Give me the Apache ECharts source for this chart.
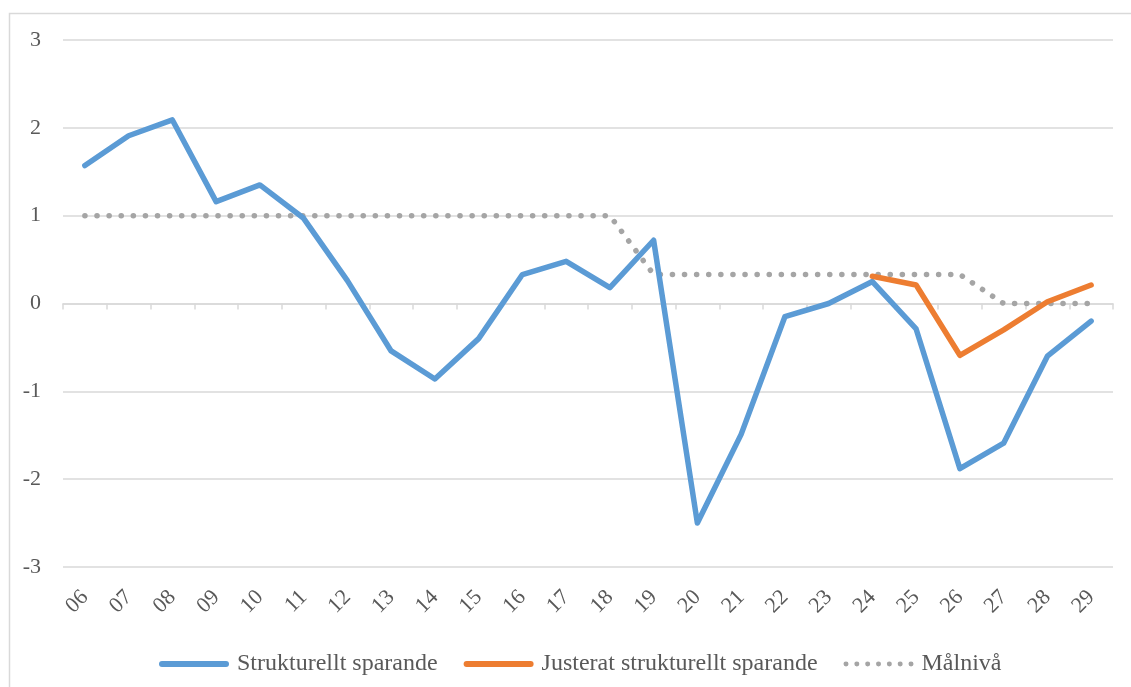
<!DOCTYPE html>
<html>
<head>
<meta charset="utf-8">
<script src="https://cdn.jsdelivr.net/npm/echarts@6/dist/echarts.min.js"></script>
<style>
  html, body { margin: 0; padding: 0; background: #fff; }
  #chart { width: 1131px; height: 687px; }
</style>
</head>
<body>
<div id="chart"></div>
<script>
// år (2006-2029)
var years = ['06', '07', '08', '09', '10', '11', '12', '13', '14', '15', '16', '17',
             '18', '19', '20', '21', '22', '23', '24', '25', '26', '27', '28', '29'];

// procent av BNP
var strukturellt = [1.57, 1.91, 2.09, 1.16, 1.35, 0.97, 0.26, -0.54, -0.86, -0.40, 0.33, 0.48,
                    0.18, 0.72, -2.50, -1.49, -0.15, 0.00, 0.25, -0.29, -1.88, -1.59, -0.60, -0.20];
var justerat = [null, null, null, null, null, null, null, null, null, null, null, null,
                null, null, null, null, null, null, 0.31, 0.21, -0.59, -0.30, 0.02, 0.21];
var malniva = [1, 1, 1, 1, 1, 1, 1, 1, 1, 1, 1, 1,
               1, 0.33, 0.33, 0.33, 0.33, 0.33, 0.33, 0.33, 0.33, 0, 0, 0];

var yTicks = [-3, -2, -1, 0, 1, 2, 3];

var font = '"Liberation Serif", "Times New Roman", serif';
var textColor = '#595959';
var gridColor = '#D9D9D9';

// legend-ikoner: hel linje med runda ändar, resp. prickar
var solidIcon = 'path://M3,0 L67,0 A3,3 0 0,1 67,6 L3,6 A3,3 0 0,1 3,0 Z';
var dotIcon = 'path://';
for (var i = 0; i < 7; i++) {
    var cx = 3 + i * 10;
    dotIcon += 'M' + (cx - 2.3) + ',3 A2.3,2.3 0 1,0 ' + (cx + 2.3) + ',3 A2.3,2.3 0 1,0 ' + (cx - 2.3) + ',3 Z ';
}

var chart = echarts.init(document.getElementById('chart'));

var option = {
    animation: false,
    textStyle: { fontFamily: font },
    graphic: [{
        type: 'rect',
        shape: { x: 9.5, y: 13.5, width: 1300, height: 900 },
        style: { fill: 'none', stroke: gridColor, lineWidth: 1.5 },
        silent: true
    }],
    grid: { left: 63, right: 18, top: 40, bottom: 120 },
    legend: {
        top: 647,
        left: 154,
        itemWidth: 70,
        itemHeight: 6,
        itemGap: 26,
        textStyle: { fontFamily: font, fontSize: 24, color: textColor, padding: [0, 0, 0, 3] },
        data: [
            { name: 'Strukturellt sparande', icon: solidIcon },
            { name: 'Justerat strukturellt sparande', icon: solidIcon },
            { name: 'Målnivå', icon: dotIcon }
        ]
    },
    xAxis: [{
        type: 'category',
        data: years,
        boundaryGap: true,
        axisLine: { onZero: true, lineStyle: { color: gridColor, width: 1.5 } },
        axisTick: { show: true, length: 6, lineStyle: { color: gridColor, width: 1.5 } },
        axisLabel: { show: false }
    }, {
        type: 'category',
        data: years,
        position: 'bottom',
        boundaryGap: true,
        axisLine: { show: false },
        axisTick: { show: false },
        axisLabel: {
            interval: 0,
            rotate: 45,
            margin: 27,
            fontFamily: font,
            fontSize: 22,
            color: textColor
        }
    }],
    yAxis: {
        type: 'value',
        min: yTicks[0],
        max: yTicks[yTicks.length - 1],
        interval: 1,
        axisLine: { show: false },
        axisTick: { show: false },
        axisLabel: { margin: 22, fontFamily: font, fontSize: 22, color: textColor, padding: [6, 0, 0, 0] },
        splitLine: { lineStyle: { color: gridColor, width: 1.5 } }
    },
    series: [{
        name: 'Strukturellt sparande',
        type: 'line',
        data: strukturellt,
        symbol: 'none',
        z: 3,
        lineStyle: { color: '#5B9BD5', width: 5.5, cap: 'round', join: 'round' },
        itemStyle: { color: '#5B9BD5' }
    }, {
        name: 'Justerat strukturellt sparande',
        type: 'line',
        data: justerat,
        symbol: 'none',
        z: 4,
        lineStyle: { color: '#ED7D31', width: 5.5, cap: 'round', join: 'round' },
        itemStyle: { color: '#ED7D31' }
    }, {
        name: 'Målnivå',
        type: 'line',
        data: malniva,
        symbol: 'none',
        z: 2,
        lineStyle: { color: '#A5A5A5', width: 5.5, type: [0.1, 12], cap: 'round' },
        itemStyle: { color: '#A5A5A5' }
    }]
};

chart.setOption(option);
</script>
</body>
</html>
